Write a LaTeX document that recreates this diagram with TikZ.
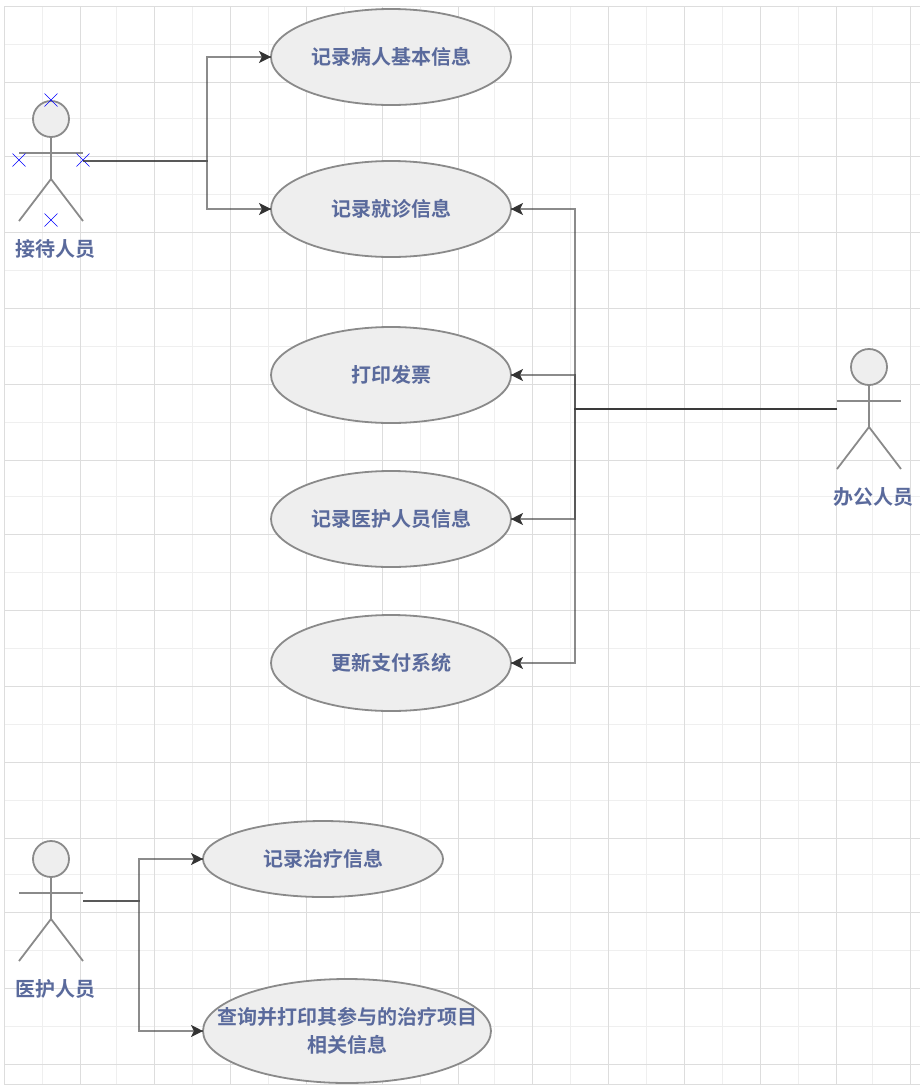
\documentclass[tikz,border=0pt]{standalone}
\usepackage{fontspec}
\setmainfont{Noto Sans CJK SC}[BoldFont={Noto Sans CJK SC Bold}]
\usetikzlibrary{shapes.geometric,arrows.meta}

\definecolor{gridmajor}{HTML}{DDDDDD}
\definecolor{gridminor}{HTML}{EFEFEF}
\definecolor{shapeline}{HTML}{8A8A8A}
\definecolor{shapefill}{HTML}{EEEEEE}
\definecolor{labeltext}{HTML}{5A6A9C}
\definecolor{connline}{HTML}{333333}

\tikzset{
  usecase/.style={ellipse, draw=shapeline, fill=shapefill, line width=1.8pt, inner sep=0pt, outer sep=0pt,
    minimum width=240pt, minimum height=96pt, align=center, text=labeltext, font=\fontsize{20}{28}\selectfont\bfseries},
  actorlabel/.style={text=labeltext, inner sep=0pt, font=\fontsize{20}{28}\selectfont\bfseries},
  actorline/.style={draw=shapeline, line width=1.8pt},
  conn/.style={draw=connline, draw opacity=.57, line width=1.5pt},
  conntip/.style={draw=connline, line width=1.5pt, -{Stealth[length=12pt,width=12pt,inset=3pt]}},
}

\begin{document}
\begin{tikzpicture}[x=1pt,y=-1pt]

\useasboundingbox (0,0) rectangle (920,1088);

% background grid
\foreach \gx in {42,116,192,268,344,420,494,570,646,722,798,872}
  \draw [gridminor, line width=1.2pt] (\gx+0.5,6) -- (\gx+0.5,1084);
\foreach \gy in {44,118,194,270,346,422,496,572,648,724,800,874,950,1026}
  \draw [gridminor, line width=1.2pt] (4,\gy+0.5) -- (920,\gy+0.5);
\foreach \gx in {4,80,154,230,306,382,458,532,608,684,760,836,910}
  \draw [gridmajor, line width=1.2pt] (\gx+0.5,6) -- (\gx+0.5,1084);
\foreach \gy in {6,82,156,232,308,384,460,534,610,686,762,838,912,988,1064,1084}
  \draw [gridmajor, line width=1.2pt] (4,\gy+0.5) -- (920,\gy+0.5);

% actors
\foreach \actorx/\actory in {51/119, 869/367, 51/859} {
  \draw [actorline, fill=shapefill] (\actorx,\actory) circle [radius=18];
  \draw [actorline] (\actorx,\actory+18) -- (\actorx,\actory+60);
  \draw [actorline] (\actorx-32,\actory+34) -- (\actorx+32,\actory+34);
  \draw [actorline] (\actorx-32,\actory+102) -- (\actorx,\actory+60) -- (\actorx+32,\actory+102);
}

% blue marks on the selected actor
\foreach \markx/\marky in {51/100, 19/160, 83/160, 51/220}
  \draw [blue, line width=0.6pt] (\markx-6.5,\marky-6.5) -- (\markx+6.5,\marky+6.5) (\markx-6.5,\marky+6.5) -- (\markx+6.5,\marky-6.5);

\node [actorlabel] (reception) at (55.5,249) {接待人员};
\node [actorlabel] (office) at (873,497) {办公人员};
\node [actorlabel] (medical) at (55.5,989) {医护人员};

\node [usecase] (patientinfo) at (391,57) {记录病人基本信息};
\node [usecase] (visitinfo) at (391,209) {记录就诊信息};
\node [usecase] (invoice) at (391,375) {打印发票};
\node [usecase] (staffinfo) at (391,519) {记录医护人员信息};
\node [usecase] (payment) at (391,663) {更新支付系统};
\node [usecase, minimum height=76pt] (treatinfo) at (323,859) {记录治疗信息};
\node [usecase, inner xsep=-32pt, inner ysep=-8pt, minimum width=288pt, minimum height=104pt] (query) at (347,1031) {查询并打印其参与的治疗项目\\相关信息};

\coordinate (receptionhand) at (83,161);
\coordinate (receptionbus) at (207,161);
\coordinate (officehand) at (837,409);
\coordinate (officebus) at (575,409);
\coordinate (medicalhand) at (83,901);
\coordinate (medicalbus) at (139,901);

\foreach \target in {patientinfo,visitinfo} {
  \draw [conn] (receptionhand) -- (receptionbus) |- (\target.west);
  \draw [conntip] ([xshift=-2pt]\target.west) -- (\target.west);
}
\foreach \target in {visitinfo,invoice,staffinfo,payment} {
  \draw [conn] (officehand) -- (officebus) |- (\target.east);
  \draw [conntip] ([xshift=2pt]\target.east) -- (\target.east);
}
\foreach \target in {treatinfo,query} {
  \draw [conn] (medicalhand) -- (medicalbus) |- (\target.west);
  \draw [conntip] ([xshift=-2pt]\target.west) -- (\target.west);
}

\end{tikzpicture}
\end{document}
